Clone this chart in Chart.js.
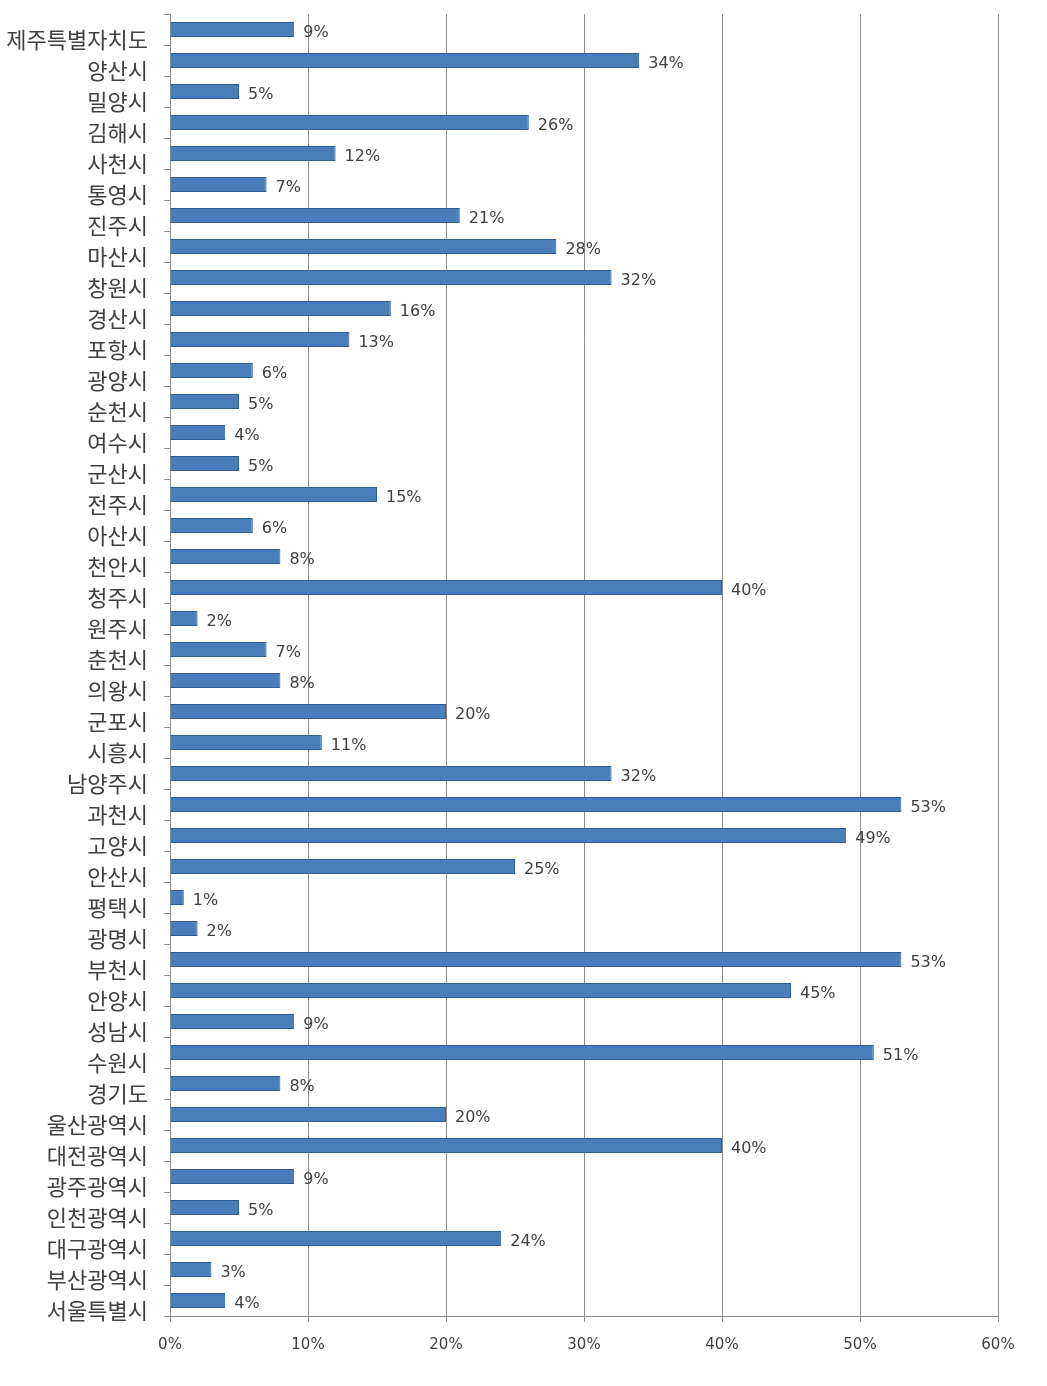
<!DOCTYPE html>
<html lang="ko">
<head>
<meta charset="utf-8">
<title>지역별 비율</title>
<script src="https://cdn.jsdelivr.net/npm/chart.js@4/dist/chart.umd.min.js"></script>
<style>
  html, body { margin: 0; padding: 0; background: #fff; }
  #wrap { width: 1047px; height: 1386px; }
</style>
</head>
<body>
<div id="wrap"><canvas id="regionChart" width="1047" height="1386"></canvas></div>
<script>
// 위에서 아래 순서
const regions = ['제주특별자치도', '양산시', '밀양시', '김해시', '사천시', '통영시', '진주시', '마산시', '창원시',
    '경산시', '포항시', '광양시', '순천시', '여수시', '군산시', '전주시', '아산시', '천안시', '청주시', '원주시',
    '춘천시', '의왕시', '군포시', '시흥시', '남양주시', '과천시', '고양시', '안산시', '평택시', '광명시', '부천시',
    '안양시', '성남시', '수원시', '경기도', '울산광역시', '대전광역시', '광주광역시', '인천광역시', '대구광역시',
    '부산광역시', '서울특별시'];
const shares = [9, 34, 5, 26, 12, 7, 21, 28, 32,
    16, 13, 6, 5, 4, 5, 15, 6, 8, 40, 2,
    7, 8, 20, 11, 32, 53, 49, 25, 1, 2, 53,
    45, 9, 51, 8, 20, 40, 9, 5, 24,
    3, 4];
const xTicks = [0, 10, 20, 30, 40, 50, 60];

const valueLabels = {
    id: 'valueLabels',
    afterDatasetsDraw(chart) {
        const ctx = chart.ctx;
        const meta = chart.getDatasetMeta(0);
        ctx.save();
        ctx.font = '16px "DejaVu Sans", sans-serif';
        ctx.fillStyle = '#404040';
        ctx.textBaseline = 'middle';
        meta.data.forEach((bar, i) => {
            ctx.fillText(shares[i] + '%', bar.x + 9, bar.y + 3);
        });
        ctx.restore();
    }
};

function initRegionChart() {
    const ctx = document.getElementById('regionChart').getContext('2d');
    new Chart(ctx, {
        type: 'bar',
        data: {
            labels: regions,
            datasets: [{
                data: shares,
                backgroundColor: '#4a7ebb',
                borderColor: '#2f5d95',
                borderWidth: 1,
                categoryPercentage: 1,
                barPercentage: 0.48
            }]
        },
        options: {
            indexAxis: 'y',
            responsive: false,
            animation: false,
            layout: { padding: { top: 14, right: 49, left: 0, bottom: 0 } },
            plugins: {
                legend: { display: false },
                tooltip: { enabled: false }
            },
            scales: {
                x: {
                    min: 0,
                    max: 60,
                    afterBuildTicks: scale => { scale.ticks = xTicks.map(v => ({ value: v })); },
                    afterFit: scale => { scale.height = 70; },
                    grid: { color: '#8c8c8c', lineWidth: 1, tickLength: 6, tickColor: '#8c8c8c' },
                    border: { color: '#8c8c8c' },
                    ticks: {
                        callback: v => v + '%',
                        color: '#404040',
                        font: { family: '"DejaVu Sans", sans-serif', size: 15 },
                        padding: 14
                    }
                },
                y: {
                    afterFit: scale => {
                        scale.width = 170;
                        scale.paddingTop = 0;
                        scale.paddingBottom = 0;
                    },
                    grid: { drawOnChartArea: false, tickLength: 6, color: '#8c8c8c', offset: true },
                    border: { color: '#8c8c8c' },
                    ticks: {
                        color: '#404040',
                        font: { family: '"Noto Sans CJK KR", sans-serif', size: 22 },
                        labelOffset: 10,
                        padding: 16,
                        autoSkip: false
                    }
                }
            }
        },
        plugins: [valueLabels]
    });
}

document.addEventListener('DOMContentLoaded', function() {
    initRegionChart();
});
</script>
</body>
</html>
